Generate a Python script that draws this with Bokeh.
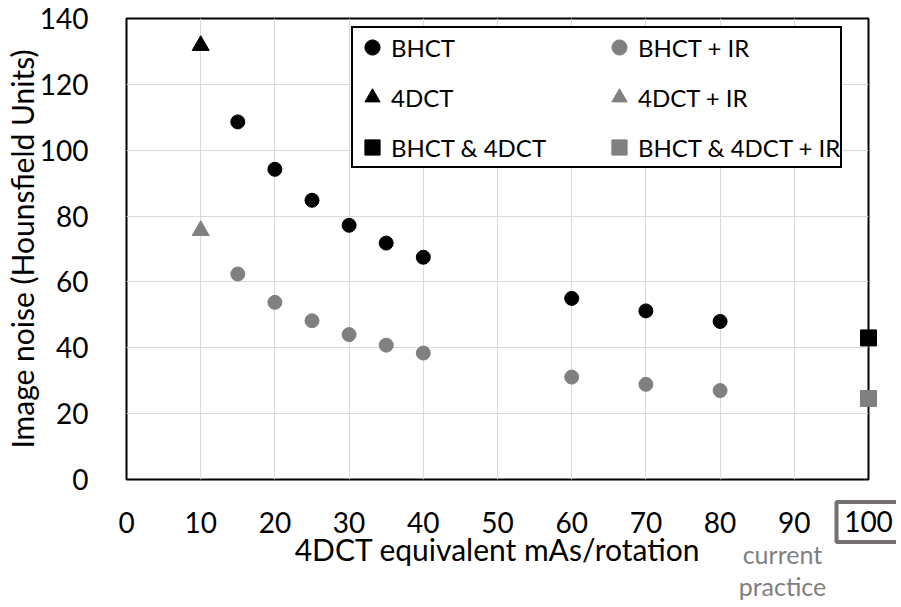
from bokeh.plotting import figure
from bokeh.models import Legend, LegendItem, Range1d, FixedTicker
from bokeh.core.properties import value
from bokeh.embed import file_html
from bokeh.resources import INLINE

# data
bhct_x = [15, 20, 25, 30, 35, 40, 60, 70, 80]
bhct_y = [108.6, 94.2, 84.8, 77.2, 71.8, 67.5, 55.0, 51.2, 48.0]
bhct_ir_y = [62.4, 53.8, 48.2, 44.0, 40.8, 38.4, 31.1, 28.9, 27.0]
fdct_x = [10]
fdct_y = [131.8]
fdct_ir_y = [75.6]
both_x = [100]
both_y = [43.0]
both_ir_y = [24.6]
x_ticks = [0, 10, 20, 30, 40, 50, 60, 70, 80, 90, 100]
y_ticks = [0, 20, 40, 60, 80, 100, 120, 140]
note_lines = ["current", "practice"]

BLACK = "#000000"
GRAY = "#808080"
FONT = "Lato"

p = figure(frame_width=742, frame_height=461, output_backend="svg", toolbar_location=None,
           x_range=Range1d(0, 100), y_range=Range1d(0, 140),
           min_border_left=115, min_border_top=18, min_border_right=28, min_border_bottom=124)

p.outline_line_color = "black"
p.outline_line_width = 2
p.xaxis.ticker = FixedTicker(ticks=x_ticks)
p.yaxis.ticker = FixedTicker(ticks=y_ticks)
p.xaxis.major_label_overrides = {x_ticks[-1]: ""}
p.axis.major_tick_line_color = None
p.axis.minor_tick_line_color = None
p.axis.axis_line_color = None
p.axis.major_label_text_font = FONT
p.axis.major_label_text_font_size = "28px"
p.axis.major_label_text_color = "black"
p.axis.axis_label_text_font = FONT
p.axis.axis_label_text_font_size = "30px"
p.axis.axis_label_text_font_style = "normal"
p.axis.axis_label_text_color = "black"
p.xaxis.axis_label = "4DCT equivalent mAs/rotation"
p.yaxis.axis_label = "Image noise (Hounsfield Units)"
p.xaxis.major_label_standoff = 26
p.xaxis.axis_label_standoff = -5
p.yaxis.major_label_standoff = 32
p.yaxis.axis_label_standoff = -3
p.grid.grid_line_color = "#d9d9d9"
p.grid.grid_line_width = 1

r1 = p.scatter(bhct_x, bhct_y, marker="circle", size=14, color=BLACK)
r2 = p.scatter(fdct_x, fdct_y, marker="triangle", size=17, color=BLACK)
r3 = p.scatter(both_x, both_y, marker="square", size=16, color=BLACK, level="overlay")
r4 = p.scatter(bhct_x, bhct_ir_y, marker="circle", size=14, color=GRAY)
r5 = p.scatter(fdct_x, fdct_ir_y, marker="triangle", size=17, color=GRAY)
r6 = p.scatter(both_x, both_ir_y, marker="square", size=16, color=GRAY, level="overlay")

legend = Legend(items=[
    LegendItem(label="BHCT", renderers=[r1]),
    LegendItem(label="4DCT", renderers=[r2]),
    LegendItem(label="BHCT & 4DCT", renderers=[r3]),
    LegendItem(label="BHCT + IR", renderers=[r4]),
    LegendItem(label="4DCT + IR", renderers=[r5]),
    LegendItem(label="BHCT & 4DCT + IR", renderers=[r6]),
], ncols=2, location=(225, 311))
legend.label_text_font = FONT
legend.label_text_font_size = "24px"
legend.label_text_color = "black"
legend.glyph_width = 38
legend.glyph_height = 38
legend.label_height = 38
legend.label_width = 197
legend.label_standoff = 0
legend.spacing = 12
legend.padding = 0
legend.margin = 0
legend.border_line_color = "black"
legend.border_line_alpha = 1
legend.border_line_width = 2
legend.background_fill_alpha = 1
p.add_layout(legend)

# boxed "100" tick label and the "current practice" note below the axis;
# drawn at overlay level so the frame does not clip them
p.rect(x=[x_ticks[-1]], y=[-12.9], width=64, height=40, width_units="screen",
       height_units="screen", fill_color="white", line_color="#767171", line_width=4,
       level="overlay")
p.text(x=[x_ticks[-1]], y=[-12.9], text=[str(x_ticks[-1])], text_align="center",
       text_baseline="middle", text_font=value(FONT), text_font_size="28px",
       text_color="black", level="overlay")
p.text(x=[88.4, 88.4], y=[-22.6, -32.3], text=note_lines, text_align="center",
       text_baseline="middle", text_font=value(FONT), text_font_size="25px",
       text_color=GRAY, level="overlay")

open("out.html", "w").write(file_html(p, INLINE))
